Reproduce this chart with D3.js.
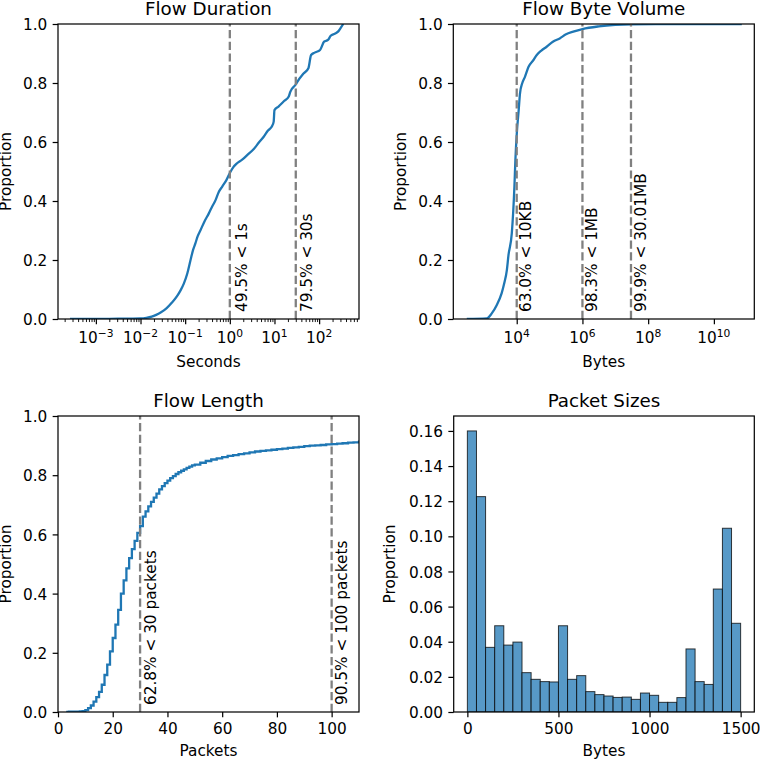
<!DOCTYPE html>
<html><head><meta charset="utf-8">
<script src="https://cdn.jsdelivr.net/npm/d3@7"></script>
<style>
body{margin:0;background:#fff}
svg{display:block}
text{font-family:"DejaVu Sans",sans-serif;fill:#000}
</style>
</head><body><svg id="c" width="760" height="760"></svg>
<script>
// ---------------- data ----------------
const durationSeconds = [2.63e-4, 1e-3, 3.16e-3, 0.01, 0.0135, 0.0178, 0.0224, 0.0282, 0.038, 0.05, 0.0646, 0.0794, 0.0933, 0.112, 0.132, 0.151, 0.17, 0.19, 0.219, 0.269, 0.339, 0.398, 0.479, 0.562, 0.676, 0.832, 1, 1.2, 1.45, 1.89, 2.51, 3.44, 4.47, 5.74, 7.08, 8.91, 9.6, 10, 12.3, 16.2, 20.9, 22.6, 30, 31.9, 44.7, 57.5, 66.1, 79.4, 105, 129, 158, 182, 224, 269, 302, 347];
const durationProportion = [0, 0.0003, 0.0008, 0.002, 0.004, 0.008, 0.014, 0.022, 0.036, 0.055, 0.076, 0.098, 0.12, 0.155, 0.2, 0.235, 0.257, 0.28, 0.3, 0.33, 0.358, 0.38, 0.403, 0.43, 0.449, 0.47, 0.495, 0.515, 0.528, 0.54, 0.557, 0.576, 0.598, 0.618, 0.638, 0.655, 0.669, 0.708, 0.72, 0.738, 0.754, 0.77, 0.795, 0.802, 0.832, 0.85, 0.895, 0.903, 0.912, 0.94, 0.946, 0.96, 0.967, 0.975, 0.986, 1.0];
const durationMarks = [1, 30];
const durationMarkLabels = ["49.5% < 1s", "79.5% < 30s"];
const durationTickExps = [-3, -2, -1, 0, 1, 2];

const byteVolume = [302, 1230, 1738, 2455, 3467, 4169, 5012, 5623, 7079, 8511, 9120, 1e4, 11482, 12589, 14791, 17783, 22909, 32359, 40738, 56234, 81283, 125893, 208930, 316228, 524807, 1e6, 3162278, 1e7, 3.02e7, 3.16e8, 7.08e10];
const byteProportion = [0, 0.002, 0.019, 0.047, 0.087, 0.121, 0.166, 0.217, 0.29, 0.449, 0.54, 0.625, 0.708, 0.765, 0.8, 0.821, 0.855, 0.878, 0.895, 0.91, 0.923, 0.94, 0.952, 0.965, 0.974, 0.983, 0.992, 0.997, 0.999, 0.9995, 1.0];
const byteMarks = [1e4, 1e6, 3.001e7];
const byteMarkLabels = ["63.0% < 10KB", "98.3% < 1MB", "99.9% < 30.01MB"];
const byteTickExps = [4, 6, 8, 10];

const lengthPackets = [3,4,5,6,7,8,9,10,11,12,13,14,15,16,17,18,19,20,21,22,23,24,25,26,27,28,29,30,31,32,33,34,35,36,37,38,39,40,41,42,43,44,45,46,47,48,49,50,52,54,56,58,60,62,64,66,68,70,72,74,76,78,80,82,84,86,88,90,92,94,96,98,100,102,104,106,108,110,112];
const lengthProportion = [0,0.0008,0.001,0.0012,0.0015,0.002,0.003,0.006,0.013,0.022,0.035,0.05,0.068,0.092,0.125,0.16,0.205,0.25,0.295,0.345,0.4,0.445,0.485,0.52,0.55,0.578,0.605,0.628,0.66,0.678,0.695,0.71,0.724,0.738,0.752,0.763,0.773,0.782,0.79,0.797,0.804,0.81,0.815,0.82,0.825,0.829,0.833,0.836,0.842,0.848,0.853,0.857,0.861,0.865,0.868,0.871,0.874,0.877,0.88,0.882,0.884,0.886,0.888,0.89,0.892,0.894,0.896,0.898,0.9,0.901,0.902,0.904,0.905,0.907,0.908,0.91,0.911,0.913,0.914];
const lengthMarks = [30, 100];
const lengthMarkLabels = ["62.8% < 30 packets", "90.5% < 100 packets"];
const lengthTicks = [0, 20, 40, 60, 80, 100];

const packetBinEdges = [0,50,100,150,200,250,300,350,400,450,500,550,600,650,700,750,800,850,900,950,1000,1050,1100,1150,1200,1250,1300,1350,1400,1450,1500];
const packetBinProportion = [0.160,0.1226,0.0368,0.0491,0.0381,0.0398,0.0224,0.0186,0.0173,0.0171,0.0491,0.0186,0.0207,0.0116,0.0099,0.0091,0.0083,0.0085,0.0072,0.0108,0.0095,0.0055,0.0055,0.0082,0.0359,0.0173,0.0157,0.070,0.1046,0.0505];
const packetTicks = [0, 500, 1000, 1500];
const proportionTicks = [0, 0.2, 0.4, 0.6, 0.8, 1.0];
const packetProportionTicks = [0, 0.02, 0.04, 0.06, 0.08, 0.10, 0.12, 0.14, 0.16];

const titles = ["Flow Duration", "Flow Byte Volume", "Flow Length", "Packet Sizes"];
const xLabels = ["Seconds", "Bytes", "Packets", "Bytes"];

// ---------------- style / layout ----------------
const FS = 15.3, TFS = 18.3, SUPFS = 10.7;
const BLUE = "#1f77b4";
const TICK = 5.35, MINOR = 3.06, SPINE = 1.22;
const svg = d3.select("#c");

const boxes = [
  {x0: 58, x1: 359, y0: 24, y1: 319},
  {x0: 453.3, x1: 754.3, y0: 24, y1: 319},
  {x0: 58, x1: 359, y0: 416, y1: 712},
  {x0: 453.7, x1: 754.3, y0: 416, y1: 712}
];

function panel(i) {
  const b = boxes[i];
  const g = svg.append("g");
  g.append("clipPath").attr("id", "clip" + i).append("rect")
    .attr("x", b.x0).attr("y", b.y0).attr("width", b.x1 - b.x0).attr("height", b.y1 - b.y0);
  const plot = g.append("g").attr("clip-path", `url(#clip${i})`);
  return {g, plot, b};
}

function frame(p) {
  const b = p.b;
  p.g.append("rect").attr("x", b.x0).attr("y", b.y0).attr("width", b.x1 - b.x0).attr("height", b.y1 - b.y0)
    .attr("fill", "none").attr("stroke", "#000").attr("stroke-width", SPINE);
}

function title(p, i, ylabBase) {
  const b = p.b;
  p.g.append("text").attr("x", (b.x0 + b.x1) / 2).attr("y", b.y0 - 9.2)
    .attr("text-anchor", "middle").style("font-size", TFS + "px").text(titles[i]);
  p.g.append("text").attr("transform", `translate(${ylabBase},${(b.y0 + b.y1) / 2}) rotate(-90)`)
    .attr("text-anchor", "middle").style("font-size", FS + "px").text("Proportion");
}

function yAxis(p, y, ticks, fmt) {
  const ax = d3.axisLeft(y).tickValues(ticks).tickSize(TICK).tickPadding(5.35).tickFormat(d3.format(fmt)).tickSizeOuter(0);
  const a = p.g.append("g").attr("transform", `translate(${p.b.x0},0)`).call(ax);
  a.select(".domain").remove();
  a.selectAll("line").attr("stroke", "#000").attr("stroke-width", SPINE);
  a.selectAll("text").attr("font-family", null).style("font-size", FS + "px").attr("dy", null)
    .attr("transform", "translate(0,5.6)").attr("fill", "#000");
}

function xAxisLinear(p, x, ticks) {
  const ax = d3.axisBottom(x).tickValues(ticks).tickSize(TICK).tickPadding(0).tickFormat(d3.format("d")).tickSizeOuter(0);
  const a = p.g.append("g").attr("transform", `translate(0,${p.b.y1})`).call(ax);
  a.select(".domain").remove();
  a.selectAll("line").attr("stroke", "#000").attr("stroke-width", SPINE);
  a.selectAll("text").attr("font-family", null).style("font-size", FS + "px").attr("dy", null).attr("y", 22.3).attr("fill", "#000");
}

function xAxisLog(p, x, exps, minor) {
  const majors = exps.map(e => Math.pow(10, e));
  const ax = d3.axisBottom(x).tickValues(majors).tickSize(TICK).tickFormat("").tickSizeOuter(0);
  const a = p.g.append("g").attr("transform", `translate(0,${p.b.y1})`).call(ax);
  a.select(".domain").remove();
  a.selectAll("line").attr("stroke", "#000").attr("stroke-width", SPINE);
  if (minor) {
    const [d0, d1] = x.domain();
    const mins = [];
    for (let e = Math.floor(Math.log10(d0)); e <= Math.ceil(Math.log10(d1)); e++)
      for (let k = 2; k <= 9; k++) { const v = k * Math.pow(10, e); if (v >= d0 && v <= d1) mins.push(v); }
    const am = d3.axisBottom(x).tickValues(mins).tickSize(MINOR).tickFormat("").tickSizeOuter(0);
    const m = p.g.append("g").attr("transform", `translate(0,${p.b.y1})`).call(am);
    m.select(".domain").remove();
    m.selectAll("line").attr("stroke", "#000").attr("stroke-width", 0.92);
  }
  exps.forEach(e => {
    const t = p.g.append("text").attr("x", x(Math.pow(10, e))).attr("y", p.b.y1 + 24.3)
      .attr("text-anchor", "middle").style("font-size", FS + "px");
    t.append("tspan").text("10");
    t.append("tspan").attr("dy", -6.8).style("font-size", SUPFS + "px").text(String(e).replace("-", "\u2212"));
  });
}

function xLabel(p, i, base) {
  const b = p.b;
  p.g.append("text").attr("x", (b.x0 + b.x1) / 2).attr("y", base).attr("text-anchor", "middle")
    .style("font-size", FS + "px").text(xLabels[i]);
}

function marks(p, x, y, vals, labels, offsets) {
  vals.forEach((v, k) => {
    const xx = x(v);
    p.plot.append("line").attr("x1", xx).attr("x2", xx).attr("y1", p.b.y1).attr("y2", p.b.y0)
      .attr("stroke", "#808080").attr("stroke-width", 2.3).attr("stroke-dasharray", "8.2,3.5");
    p.g.append("text").attr("transform", `translate(${xx + offsets[k] + 11.2},${y(0) - 7}) rotate(-90)`)
      .attr("text-anchor", "start").style("font-size", FS + "px").text(labels[k]);
  });
}

// ---------------- Panel 1: Flow Duration ----------------
{
  const p = panel(0);
  const x = d3.scaleLog().domain([Math.pow(10, -3.848), Math.pow(10, 2.893)]).range([p.b.x0, p.b.x1]);
  const y = d3.scaleLinear().domain([0, 1]).range([p.b.y1, p.b.y0]);
  const line = d3.line().x(d => x(d[0])).y(d => y(d[1])).curve(d3.curveMonotoneX);
  p.plot.append("path").datum(d3.zip(durationSeconds, durationProportion)).attr("d", line)
    .attr("fill", "none").attr("stroke", BLUE).attr("stroke-width", 2.3).attr("stroke-linejoin", "round");
  marks(p, x, y, durationMarks, durationMarkLabels, [5.5, 5.5]);
  frame(p);
  yAxis(p, y, proportionTicks, ".1f");
  xAxisLog(p, x, durationTickExps, true);
  xLabel(p, 0, 366.5);
  title(p, 0, 10.5);
}

// ---------------- Panel 2: Flow Byte Volume ----------------
{
  const p = panel(1);
  const x = d3.scaleLog().domain([Math.pow(10, 2.07), Math.pow(10, 11.23)]).range([p.b.x0, p.b.x1]);
  const y = d3.scaleLinear().domain([0, 1]).range([p.b.y1, p.b.y0]);
  const line = d3.line().x(d => x(d[0])).y(d => y(d[1])).curve(d3.curveMonotoneX);
  p.plot.append("path").datum(d3.zip(byteVolume, byteProportion)).attr("d", line)
    .attr("fill", "none").attr("stroke", BLUE).attr("stroke-width", 2.3).attr("stroke-linejoin", "round");
  marks(p, x, y, byteMarks, byteMarkLabels, [3.3, 3.0, 3.8]);
  frame(p);
  yAxis(p, y, proportionTicks, ".1f");
  xAxisLog(p, x, byteTickExps, false);
  xLabel(p, 1, 366.5);
  title(p, 1, 405.8);
}

// ---------------- Panel 3: Flow Length ----------------
{
  const p = panel(2);
  const x = d3.scaleLinear().domain([0, 110]).range([p.b.x0, p.b.x1]);
  const y = d3.scaleLinear().domain([0, 1]).range([p.b.y1, p.b.y0]);
  const line = d3.line().x(d => x(d[0])).y(d => y(d[1])).curve(d3.curveStepAfter);
  p.plot.append("path").datum(d3.zip(lengthPackets, lengthProportion)).attr("d", line)
    .attr("fill", "none").attr("stroke", BLUE).attr("stroke-width", 2.3).attr("stroke-linejoin", "miter");
  marks(p, x, y, lengthMarks, lengthMarkLabels, [5.0, 4.3]);
  frame(p);
  yAxis(p, y, proportionTicks, ".1f");
  xAxisLinear(p, x, lengthTicks);
  xLabel(p, 2, 755.8);
  title(p, 2, 10.5);
}

// ---------------- Panel 4: Packet Sizes ----------------
{
  const p = panel(3);
  const x = d3.scaleLinear().domain([-75, 1575]).range([p.b.x0, p.b.x1]);
  const y = d3.scaleLinear().domain([0, 0.1685]).range([p.b.y1, p.b.y0]);
  p.plot.selectAll("rect.bar").data(packetBinProportion).join("rect").attr("class", "bar")
    .attr("x", (d, k) => x(packetBinEdges[k]))
    .attr("width", (d, k) => x(packetBinEdges[k + 1]) - x(packetBinEdges[k]))
    .attr("y", d => y(d)).attr("height", d => y(0) - y(d))
    .attr("fill", "rgb(87,153,199)").attr("stroke", "rgba(0,0,0,0.75)").attr("stroke-width", 1);
  frame(p);
  yAxis(p, y, packetProportionTicks, ".2f");
  xAxisLinear(p, x, packetTicks);
  xLabel(p, 3, 755.8);
  title(p, 3, 394.8);
}
</script></body></html>
